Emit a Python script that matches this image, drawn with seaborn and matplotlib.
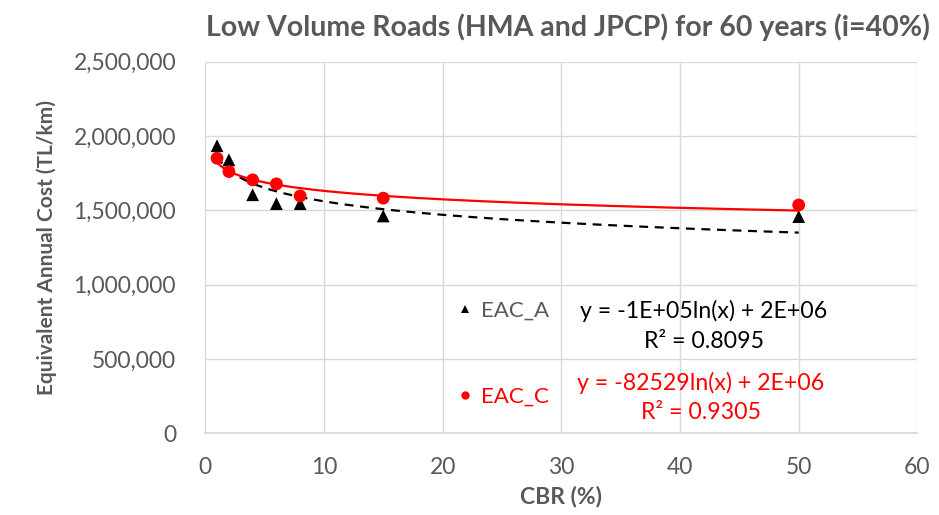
import numpy as np
import pandas as pd
import matplotlib
matplotlib.use("Agg")
import matplotlib.pyplot as plt
import seaborn as sns
from matplotlib.ticker import FuncFormatter, MultipleLocator

cbr = [1, 2, 4, 6, 8, 15, 50]
eac_a = [1935000, 1840000, 1605000, 1545000, 1545000, 1462000, 1458000]
eac_c = [1851000, 1761000, 1705000, 1678000, 1597000, 1582000, 1536000]
title = "Low Volume Roads (HMA and JPCP) for 60 years (i=40%)"
eq_a = "y = -1E+05ln(x) + 2E+06\nR² = 0.8095"
eq_c = "y = -82529ln(x) + 2E+06\nR² = 0.9305"

sns.set_theme(style="whitegrid")
plt.rcParams['font.family'] = ['Lato', 'DejaVu Sans']
gray = "#595959"

df = pd.DataFrame({"CBR": cbr * 2, "EAC": eac_a + eac_c,
                   "Series": ["EAC_A"] * len(cbr) + ["EAC_C"] * len(cbr)})

fig = plt.figure(figsize=(9.39, 5.15), dpi=100)
ax = fig.add_axes([0.2185, 0.159, 0.7585, 0.721])

sns.scatterplot(data=df, x="CBR", y="EAC", hue="Series", style="Series",
                palette={"EAC_A": "black", "EAC_C": "#ff0000"},
                markers={"EAC_A": "^", "EAC_C": "o"}, s=85, linewidth=0,
                ax=ax, zorder=3)

# logarithmic trendlines
xs = np.linspace(1, 50, 200)
ca = np.polyfit(np.log(cbr), eac_a, 1)
cc = np.polyfit(np.log(cbr), eac_c, 1)
ax.plot(xs, np.polyval(ca, np.log(xs)), color="black", ls=(0, (4, 3)), lw=1.6, zorder=2)
ax.plot(xs, np.polyval(cc, np.log(xs)), color="#ff0000", lw=1.6, zorder=2)

ax.set_xlim(0, 60)
ax.set_ylim(0, 2500000)
ax.xaxis.set_major_locator(MultipleLocator(10))
ax.yaxis.set_major_locator(MultipleLocator(500000))
ax.yaxis.set_major_formatter(FuncFormatter(lambda v, p: f"{int(v):,}"))
ax.grid(True, color="#d9d9d9", lw=1)
for s in ["top", "right", "left"]:
    ax.spines[s].set_visible(False)
ax.spines["bottom"].set_color("#d9d9d9")
ax.tick_params(axis="both", colors=gray, labelsize=16.5, length=0)
ax.tick_params(axis="x", pad=17)
ax.tick_params(axis="y", pad=21)

ax.set_xlabel("CBR (%)", color=gray, fontsize=16.5, fontweight="bold", labelpad=6)
ax.set_ylabel("Equivalent Annual Cost (TL/km)", color=gray, fontsize=15,
              fontweight="bold", labelpad=12)
fig.text(0.605, 0.947, title, ha="center", va="center", color=gray, fontsize=20.5,
         fontweight="bold")

leg = ax.legend(loc="center left", bbox_to_anchor=(0.331, 0.214), frameon=False,
                fontsize=16, labelspacing=3.0, handletextpad=0.1, handlelength=1.2,
                borderpad=0, markerscale=0.65, labelcolor=[gray, "#ff0000"])

ax.text(0.7005, 0.288, eq_a, transform=ax.transAxes, ha="center", va="center",
        fontsize=16.7, color="black", linespacing=1.5)
ax.text(0.6955, 0.096, eq_c, transform=ax.transAxes, ha="center", va="center",
        fontsize=16.7, color="#ff0000", linespacing=1.5)

fig.savefig("out.png", dpi=100)
